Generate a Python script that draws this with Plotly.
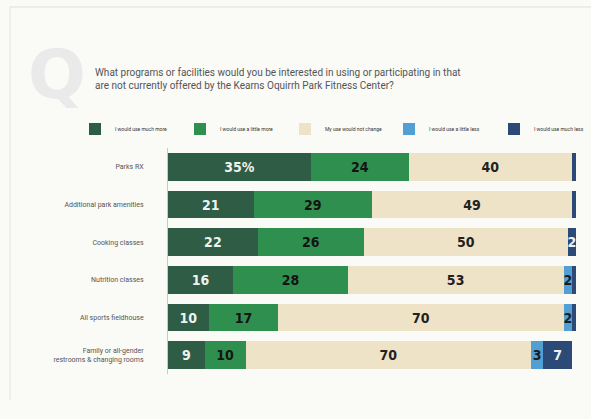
import plotly.graph_objects as go

categories = ["Parks RX", "Additional park amenities", "Cooking classes",
              "Nutrition classes", "All sports fieldhouse",
              "Family or all-gender<br>restrooms & changing rooms"]
series_names = ["I would use much more", "I would use a little more",
                "My use would not change", "I would use a little less",
                "I would use much less"]
much_more = [35, 21, 22, 16, 10, 9]
little_more = [24, 29, 26, 28, 17, 10]
no_change = [40, 49, 50, 53, 70, 70]
little_less = [0, 0, 0, 2, 2, 3]
much_less = [1, 1, 2, 2, 1, 7]

values = [much_more, little_more, no_change, little_less, much_less]
colors = ["#2e5c44", "#2f8f4f", "#efe3c7", "#529fd4", "#2b4a77"]
text_colors = ["#eef2ee", "#141414", "#222222", "#1c1c1c", "#f2f2f2"]
legend_groups = ["legend", "legend", "legend", "legend2", "legend2"]

def labels(vals, idx):
    out = []
    for j, v in enumerate(vals):
        if v < 2:
            out.append("")
        elif idx == 0 and j == 0:
            out.append(f"{v}%")
        else:
            out.append(str(v))
    return out

fig = go.Figure()
for i, (name, vals) in enumerate(zip(series_names, values)):
    fig.add_trace(go.Bar(
        y=categories, x=vals, name=name, orientation="h",
        marker=dict(color=colors[i], line=dict(width=0)),
        text=labels(vals, i), textposition="inside", insidetextanchor="middle",
        constraintext="none", cliponaxis=False, legend=legend_groups[i],
        textfont=dict(family="DejaVu Sans Condensed", size=14, color=text_colors[i], weight="bold"),
        hoverinfo="skip",
    ))

leg_common = dict(orientation="h", xref="container", yref="container",
                  y=1 - 129 / 419, xanchor="left", yanchor="middle",
                  font=dict(family="Roboto", size=5, color="#333"),
                  entrywidth=60, entrywidthmode="pixels",
                  itemwidth=30, traceorder="normal", bgcolor="rgba(0,0,0,0)")

fig.update_layout(
    barmode="stack", bargap=0.27,
    width=591, height=419,
    margin=dict(l=168, r=15, t=148, b=45, autoexpand=False),
    paper_bgcolor="#fafaf7", plot_bgcolor="rgba(0,0,0,0)",
    showlegend=True,
    legend=dict(x=75 / 591, **leg_common),
    legend2=dict(x=389 / 591, **leg_common),
    xaxis=dict(range=[0, 100], visible=False, fixedrange=True),
    yaxis=dict(autorange="reversed", showgrid=False, zeroline=False,
               showline=True, linecolor="#d9cf7a", linewidth=1,
               ticks="", ticklabelstandoff=22,
               tickfont=dict(family="Roboto", size=7, color="#555")),
    font=dict(family="Roboto"),
)

fig.add_annotation(text="Q", xref="paper", yref="paper",
                   x=(26 - 168) / 408, y=(374 - 33) / 226,
                   showarrow=False, font=dict(family="DejaVu Sans", size=68, color="#eaeaea", weight="bold"))
fig.add_annotation(text="What programs or facilities would you be interested in using or participating in that<br>are not currently offered by the Kearns Oquirrh Park Fitness Center?",
                   xref="paper", yref="paper", x=(93 - 168) / 408, y=(374 - 79) / 226,
                   xanchor="left", yanchor="middle", align="left", showarrow=False,
                   font=dict(family="Roboto", size=10, color="#555"))
fig.add_shape(type="line", xref="paper", yref="paper",
              x0=(10 - 168) / 408, x1=(591 - 168) / 408, y0=(374 - 7) / 226, y1=(374 - 7) / 226,
              line=dict(color="#dddddd", width=1))
fig.add_shape(type="line", xref="paper", yref="paper",
              x0=(10 - 168) / 408, x1=(10 - 168) / 408, y0=(374 - 7) / 226, y1=(374 - 400) / 226,
              line=dict(color="#e4e4e4", width=1))

fig.write_html("out.html")
